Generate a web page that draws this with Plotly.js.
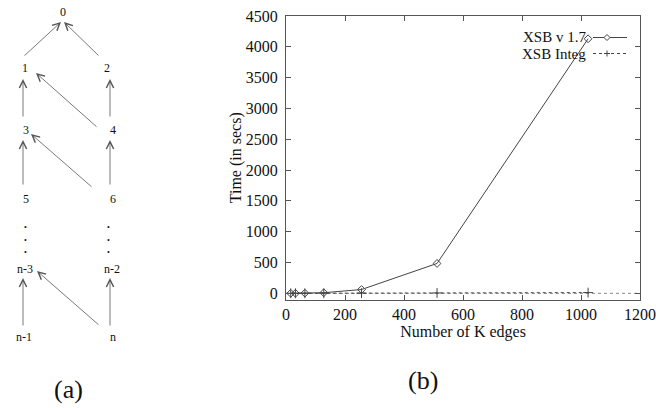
<!DOCTYPE html>
<html><head><meta charset="utf-8">
<script src="https://cdn.plot.ly/plotly-3.0.1.min.js"></script>
<style>html,body{margin:0;padding:0;background:#fff}#c{width:656px;height:408px}</style>
</head><body><div id="c"></div>
<script>
// ---- data ----
const kEdges = [16, 32, 64, 128, 256, 512, 1024];
const xsb17 = [0.5, 1, 3, 10, 62, 485, 4130];
const xsbInteg = [0.2, 0.4, 0.8, 1.5, 3, 6, 12];
const seriesNames = ["XSB v 1.7", "XSB Integ"];
const xTicks = [0, 200, 400, 600, 800, 1000, 1200];
const yTicks = [0, 500, 1000, 1500, 2000, 2500, 3000, 3500, 4000, 4500];
const nodeLabels = ["0", "1", "2", "3", "4", "5", "6", "n-3", "n-2", "n-1", "n"];
const edges = [["1","0"],["2","0"],["3","1"],["4","2"],["4","1"],["5","3"],["6","4"],["6","3"],["n-1","n-3"],["n","n-2"],["n","n-3"]];

// ---- diagram geometry (pixels) ----
const W = 656, H = 408;
const px = x => x / W, py = y => 1 - y / H;
const nodePos = {"0":[63,12],"1":[25,68],"2":[107,68],"3":[26,130],"4":[113,130],"5":[26,199],"6":[113,199],
  "n-3":[25,269],"n-2":[112,269],"n-1":[24,337],"n":[113,337]};
const edgeGeom = { // tail, head
  "1-0":[[23,57],[61,22]], "2-0":[[100,57],[64,22]],
  "3-1":[[23,118],[23,79]], "4-2":[[110,118],[110,79]], "4-1":[[98,128],[36,73]],
  "5-3":[[23,186],[23,140]], "6-4":[[110,186],[110,140]], "6-3":[[93,188],[31,134]],
  "n-1-n-3":[[23,327],[23,278]], "n-n-2":[[110,327],[110,278]], "n-n-3":[[100,326],[37,271]]
};
const serif = "'Liberation Serif', 'Times New Roman', serif";
const ann = [];
nodeLabels.forEach(l => {
  const p = nodePos[l];
  ann.push({x:px(p[0]), y:py(p[1]), xref:'paper', yref:'paper', text:l, showarrow:false,
    xanchor:'center', yanchor:'middle', font:{family:serif, size:12, color:'#111'}});
});
edges.forEach(e => {
  const g = edgeGeom[e[0]+"-"+e[1]];
  const t = g[0], h = g[1];
  ann.push({x:px(h[0]), y:py(h[1]), xref:'paper', yref:'paper', text:'', showarrow:true,
    ax:t[0]-h[0], ay:t[1]-h[1], axref:'pixel', ayref:'pixel', arrowhead:5, arrowsize:1.8,
    arrowwidth:0.8, arrowcolor:'#555', standoff:0});
});
[[25,227],[25,240],[25,252],[108,227],[108,240],[108,252]].forEach(d => {
  ann.push({x:px(d[0]), y:py(d[1]), xref:'paper', yref:'paper', text:'•', showarrow:false,
    xanchor:'center', yanchor:'middle', font:{family:serif, size:8, color:'#111'}});
});
ann.push({x:px(68), y:py(389), xref:'paper', yref:'paper', text:'(a)', showarrow:false,
  xanchor:'center', yanchor:'middle', font:{family:serif, size:26, color:'#111'}});
ann.push({x:px(423), y:py(380), xref:'paper', yref:'paper', text:'(b)', showarrow:false,
  xanchor:'center', yanchor:'middle', font:{family:serif, size:26, color:'#111'}});
// legend text
const leg1 = 36.5, leg2 = 54.5;
ann.push({x:px(588), y:py(leg1), xref:'paper', yref:'paper', text:seriesNames[0], showarrow:false,
  xanchor:'right', yanchor:'middle', font:{family:serif, size:15, color:'#111'}});
ann.push({x:px(588), y:py(leg2), xref:'paper', yref:'paper', text:seriesNames[1], showarrow:false,
  xanchor:'right', yanchor:'middle', font:{family:serif, size:15, color:'#111'}});

const shapes = [
  // zero axis
  {type:'line', xref:'x domain', yref:'y', x0:0, x1:1, y0:0, y1:0, line:{color:'#888', width:1, dash:'dot'}, layer:'below'},
  // legend samples
  {type:'line', xref:'paper', yref:'paper', x0:px(593), x1:px(627), y0:py(leg1+1), y1:py(leg1+1), line:{color:'#444', width:1}},
  {type:'path', xref:'paper', yref:'paper', path:`M${px(604)},${py(leg1+1)} L${px(607)},${py(leg1-2)} L${px(610)},${py(leg1+1)} L${px(607)},${py(leg1+4)} Z`,
    line:{color:'#444', width:1}, fillcolor:'#fff'},
  {type:'line', xref:'paper', yref:'paper', x0:px(593), x1:px(627), y0:py(leg2-1), y1:py(leg2-1), line:{color:'#444', width:1, dash:'dot'}},
  {type:'line', xref:'paper', yref:'paper', x0:px(607), x1:px(607), y0:py(leg2-4), y1:py(leg2+2), line:{color:'#444', width:1}},
  {type:'line', xref:'paper', yref:'paper', x0:px(604), x1:px(610), y0:py(leg2-1), y1:py(leg2-1), line:{color:'#444', width:1}}
];

const traces = [
  {x:kEdges, y:xsb17, name:seriesNames[0], mode:'lines+markers', type:'scatter',
    line:{color:'#444', width:1}, marker:{symbol:'diamond-open', size:6, color:'#444', line:{width:1}}},
  {x:kEdges, y:xsbInteg, name:seriesNames[1], mode:'lines+markers', type:'scatter',
    line:{color:'#444', width:1, dash:'dot'}, marker:{symbol:'cross-thin-open', size:7, color:'#444', line:{width:1, color:'#444'}}}
];

const axisCommon = {showgrid:false, zeroline:false, showline:true, linecolor:'#555', linewidth:1,
  mirror:'ticks', ticks:'inside', ticklen:5, tickcolor:'#555', tickwidth:1,
  tickfont:{family:serif, size:16, color:'#111'}};

const layout = {
  width:W, height:H, margin:{l:0, r:0, t:0, b:0}, paper_bgcolor:'#fff', plot_bgcolor:'#fff',
  showlegend:false,
  xaxis:Object.assign({}, axisCommon, {domain:[286/W, 640/W], range:[0,1200], tickvals:xTicks,
    ticklabelstandoff:0,
    title:{text:'Number of K edges', font:{family:serif, size:16, color:'#111'}, standoff:0}}),
  yaxis:Object.assign({}, axisCommon, {domain:[(H-299.5)/H, (H-16)/H], range:[-100,4500], tickvals:yTicks,
    ticklabelstandoff:4,
    title:{text:'Time (in secs)', font:{family:serif, size:16, color:'#111'}, standoff:0}}),
  annotations:ann, shapes:shapes
};
Plotly.newPlot('c', traces, layout, {displayModeBar:false, staticPlot:true});
</script></body></html>
